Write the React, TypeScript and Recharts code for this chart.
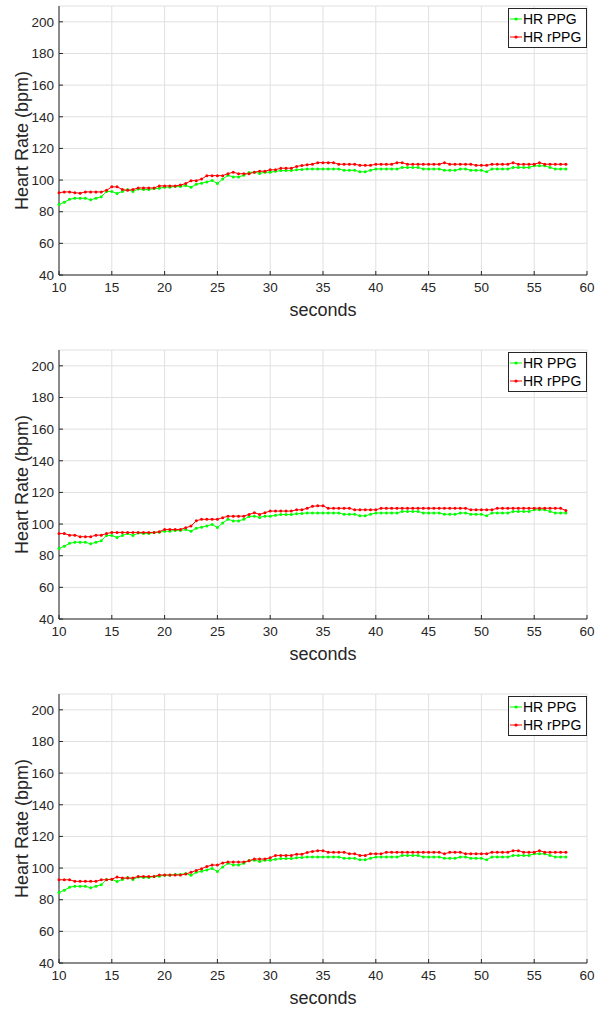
import React from "react";
import { LineChart, Line, XAxis, YAxis, CartesianGrid, Legend, Label } from "recharts";

// sample times, every 0.5 s from 10 to 58
const seconds = Array.from({ length: 97 }, (_, i) => 10 + i * 0.5);

const xTicks = [10, 15, 20, 25, 30, 35, 40, 45, 50, 55, 60];
const yTicks = [40, 60, 80, 100, 120, 140, 160, 180, 200];

// reference PPG heart rate (same in every panel)
const hrPPG = [
  84.6, 86, 87.8, 88.5, 88.5, 88.5, 87.5, 88.5, 89.5, 92.8,
  92.8, 91.5, 92.8, 94, 92.8, 94.3, 94, 94, 94.6, 94.8,
  95.5, 95.5, 96, 96, 96.5, 95.5, 97.3, 98, 98.8, 99.8,
  97.8, 100.7, 103, 102, 102, 103, 104.8, 105, 104.2, 105,
  105, 105.5, 106, 106, 106, 106.5, 106.7, 107, 107, 107,
  107, 107, 107, 107, 106.2, 106.2, 106.2, 105.2, 105.2, 106.2,
  107, 107, 107, 107, 107, 108, 108, 108, 108, 107,
  107, 107, 107, 106.2, 106.2, 106.2, 107, 107, 106.2, 106.2,
  106.2, 105.2, 107, 107, 107, 107, 108, 108, 108, 108,
  109, 109, 109, 108, 107, 107, 107,
];

const hrRPPG1 = [
  92, 92.5, 92.5, 92, 91.7, 92.5, 92.5, 92.5, 92.5, 93.5,
  95.7, 95.7, 94, 93.5, 94, 95, 95, 95, 95, 96.3,
  96.3, 96.3, 96.3, 96.8, 97.8, 99.6, 99.6, 100.6, 102.8, 102.8,
  102.8, 102.8, 104, 105, 104, 104, 104, 105, 105.6, 105.6,
  106.5, 106.5, 107.5, 107.5, 107.5, 108.6, 109.2, 109.7, 110, 111,
  111, 111, 111, 110, 110, 110, 110, 109.3, 109.3, 109.3,
  110, 110, 110, 110, 111, 111, 110, 110, 110, 110,
  110, 110, 110, 111, 110, 110, 110, 110, 110, 109.3,
  109.3, 109.3, 110, 110, 110, 110, 111, 110, 110, 110,
  110, 111, 110, 110, 110, 110, 110,
];

const hrRPPG2 = [
  94, 94, 93, 93, 92, 92, 92, 93, 93, 94,
  94.7, 94.7, 94.7, 94.7, 94.7, 94.7, 94.7, 94.7, 94.7, 95.2,
  96.6, 96.6, 96.6, 96.6, 97.7, 98.7, 102.1, 103, 103, 103,
  103, 104, 105, 105, 105, 105, 106.1, 107.2, 106.1, 107.2,
  108.2, 108.2, 108.2, 108.2, 108.2, 109, 109, 110, 111.2, 111.5,
  111.5, 110, 110, 110, 110, 110, 109, 109, 109, 109,
  109, 110, 110, 110, 110, 110, 110, 110, 110, 110,
  110, 110, 110, 110, 110, 110, 110, 110, 109, 109,
  109, 109, 109, 110, 110, 110, 110, 110, 110, 110,
  110, 110, 110, 110, 110, 110, 108.5,
];

const hrRPPG3 = [
  92.6, 92.6, 92.6, 91.6, 91.6, 91.6, 91.6, 91.6, 92.6, 92.6,
  93, 94.3, 93.7, 93.7, 93.7, 94.7, 94.7, 94.7, 94.7, 95.6,
  95.6, 95.6, 95.6, 95.6, 96.2, 97.3, 98.5, 99.6, 101, 101.9,
  101.9, 103.2, 103.8, 103.8, 103.8, 103.8, 104.6, 105.7, 105.7, 105.7,
  106.5, 108, 108, 108, 108, 108.8, 108.8, 109.9, 110.5, 111,
  111, 110, 110, 110, 110, 109, 109, 108, 108, 109,
  109, 109, 110, 110, 110, 110, 110, 110, 110, 110,
  110, 110, 110, 109, 110, 110, 110, 109, 109, 109,
  109, 109, 110, 110, 110, 110, 111, 111, 110, 110,
  110, 111, 110, 110, 110, 110, 110,
];

const GREEN = "#00ff00";
const RED = "#ff0000";
const INK = "#262626";
const FONT = "'Liberation Sans', Arial, Helvetica, sans-serif";

const makeRows = (rppg: number[]) =>
  seconds.map((t, i) => ({ t, ppg: hrPPG[i], rppg: rppg[i] }));

const legendItems = [
  { name: "HR PPG", color: GREEN },
  { name: "HR rPPG", color: RED },
];

function MatlabLegend() {
  return (
    <div
      style={{
        border: `1px solid ${INK}`,
        background: "#fff",
        padding: "1px 5px 1px 1px",
        fontFamily: FONT,
        fontSize: 14,
        color: "#000",
        lineHeight: "18px",
      }}
    >
      {legendItems.map((it) => (
        <div key={it.name} style={{ display: "flex", alignItems: "center" }}>
          <svg width={12} height={18} style={{ marginRight: 1 }}>
            <line x1={0} y1={9} x2={12} y2={9} stroke={it.color} strokeWidth={1} />
            <circle cx={6} cy={9} r={1.6} fill={it.color} />
          </svg>
          <span>{it.name}</span>
        </div>
      ))}
    </div>
  );
}

function YTitle(props: any) {
  const vb = props.viewBox;
  const cx = vb.x + 28;
  const cy = vb.y + vb.height / 2;
  return (
    <text
      x={cx}
      y={cy}
      transform={`rotate(-90, ${cx}, ${cy})`}
      textAnchor="middle"
      fontSize={18}
      fontFamily={FONT}
      fill={INK}
    >
      Heart Rate (bpm)
    </text>
  );
}

function XTitle(props: any) {
  const vb = props.viewBox;
  return (
    <text
      x={vb.x + vb.width / 2}
      y={vb.y + 41}
      textAnchor="middle"
      fontSize={18}
      fontFamily={FONT}
      fill={INK}
    >
      seconds
    </text>
  );
}

function Panel({ rppg }: { rppg: number[] }) {
  const rows = makeRows(rppg);
  const tickStyle = { fontSize: 13.5, fontFamily: FONT, fill: INK };
  return (
    <LineChart
      width={596}
      height={344}
      data={rows}
      margin={{ top: 6, right: 9, left: 0, bottom: 0 }}
    >
      <CartesianGrid stroke="#e0e0e0" strokeWidth={1} />
      <XAxis
        dataKey="t"
        type="number"
        domain={[10, 60]}
        ticks={xTicks}
        height={69}
        tickSize={-4}
        tickMargin={11}
        stroke={INK}
        tick={tickStyle}
        interval={0}
      >
        <Label content={XTitle} />
      </XAxis>
      <YAxis
        type="number"
        domain={[40, 210]}
        ticks={yTicks}
        width={59}
        tickSize={-4}
        tickMargin={9}
        stroke={INK}
        tick={tickStyle}
        interval={0}
      >
        <Label content={YTitle} />
      </YAxis>
      <Legend
        layout="vertical"
        align="center"
        verticalAlign="middle"
        wrapperStyle={{ left: 508, top: 8, width: "auto" }}
        content={() => <MatlabLegend />}
      />
      <Line
        dataKey="ppg"
        name="HR PPG"
        stroke={GREEN}
        strokeWidth={1}
        dot={{ r: 1.5, fill: GREEN, strokeWidth: 0 }}
        activeDot={false}
        isAnimationActive={false}
      />
      <Line
        dataKey="rppg"
        name="HR rPPG"
        stroke={RED}
        strokeWidth={1}
        dot={{ r: 1.5, fill: RED, strokeWidth: 0 }}
        activeDot={false}
        isAnimationActive={false}
      />
    </LineChart>
  );
}

export default function App() {
  return (
    <div style={{ position: "absolute", left: 0, top: 0, width: 596, background: "#fff" }}>
      <Panel rppg={hrRPPG1} />
      <Panel rppg={hrRPPG2} />
      <Panel rppg={hrRPPG3} />
    </div>
  );
}
